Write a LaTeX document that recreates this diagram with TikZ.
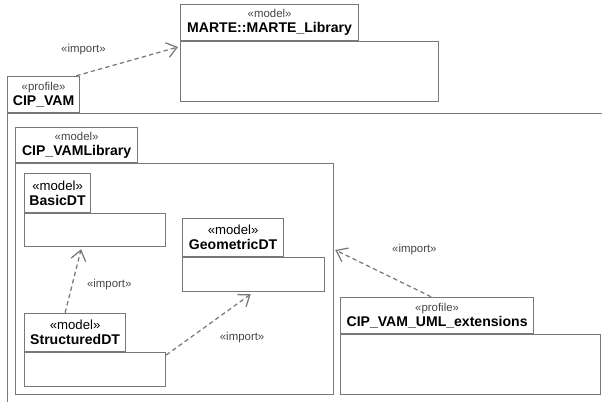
\documentclass[tikz,border=0pt]{standalone}
\usepackage{fontspec}
\setmainfont{Liberation Sans}
\usepackage{tikz}
\usetikzlibrary{arrows.meta, positioning, calc}
\definecolor{linegray}{RGB}{120, 120, 120}
\definecolor{textgray}{RGB}{70, 70, 70}
\newcommand{\stype}[1]{{\mdseries\fontsize{6.5}{7.5}\selectfont\color{textgray}«#1»}}
\newcommand{\stypedark}[1]{{\mdseries\fontsize{7.5}{8.5}\selectfont«#1»}}

\begin{document}
\begin{tikzpicture}[
    pkgbody/.style={rectangle, draw=linegray, line width=0.7pt, fill=white, anchor=north west, inner sep=0pt},
    pkgtab/.style={rectangle, draw=linegray, line width=0.7pt, fill=white, anchor=south west, inner sep=1pt, minimum height=0.72cm, align=center, font=\fontsize{8}{8.5}\selectfont\bfseries},
    imp/.style={-{Straight Barb[length=2mm, width=3mm]}, dash pattern=on 2.5pt off 1.8pt, linegray, line width=0.7pt},
    implabel/.style={font=\fontsize{6.5}{7}\selectfont, text=textgray}
]
    \useasboundingbox (0,0) rectangle (12.04,-8.02);
    \clip (0,0) rectangle (12.04,-8.02);

    % MARTE library
    \node[pkgbody, minimum width=5.16cm, minimum height=1.2cm] (martebody) at (3.6,-0.82) {};
    \node[pkgtab, minimum width=3.56cm] (martetab) at (martebody.north west) {\stype{model}\\MARTE::MARTE\_Library};

    % CIP_VAM profile (runs off the page)
    \node[pkgbody, minimum width=13cm, minimum height=7cm] (vambody) at (0.14,-2.26) {};
    \node[pkgtab, minimum width=1.44cm] (vamtab) at (vambody.north west) {\stype{profile}\\CIP\_VAM};

    % CIP_VAMLibrary
    \node[pkgbody, minimum width=6.36cm, minimum height=4.62cm] (libbody) at (0.30,-3.26) {};
    \node[pkgtab, minimum width=2.44cm, minimum height=0.70cm] (libtab) at (libbody.north west) {\stype{model}\\CIP\_VAMLibrary};

    % Data type models
    \node[pkgbody, minimum width=2.82cm, minimum height=0.66cm] (basicbody) at (0.48,-4.26) {};
    \node[pkgtab, minimum width=1.32cm, minimum height=0.78cm] (basictab) at (basicbody.north west) {\stypedark{model}\\BasicDT};

    \node[pkgbody, minimum width=2.84cm, minimum height=0.68cm] (geobody) at (3.64,-5.14) {};
    \node[pkgtab, minimum width=2.02cm, minimum height=0.76cm] (geotab) at (geobody.north west) {\stypedark{model}\\GeometricDT};

    \node[pkgbody, minimum width=2.82cm, minimum height=0.68cm] (structbody) at (0.48,-7.04) {};
    \node[pkgtab, minimum width=2.02cm, minimum height=0.76cm] (structtab) at (structbody.north west) {\stypedark{model}\\StructuredDT};

    % UML extensions profile
    \node[pkgbody, minimum width=5.2cm, minimum height=1.2cm] (extbody) at (6.80,-6.68) {};
    \node[pkgtab, minimum width=3.86cm] (exttab) at (extbody.north west) {\stype{profile}\\CIP\_VAM\_UML\_extensions};

    % Imports
    \draw[imp] ([xshift=-0.08cm]vamtab.north east) -- node[implabel, above left=0.0cm and 0.3cm]{«import»} ($(martebody.north west)+(-0.04,-0.12)$);
    \draw[imp] ([xshift=-0.2cm]structtab.north) -- node[implabel, right=0.15cm, yshift=-0.08cm]{«import»} ([xshift=-0.28cm, yshift=-0.04cm]basicbody.south);
    \draw[imp] ([yshift=-0.06cm]structbody.north east) -- node[implabel, below right=0.02cm and 0.1cm]{«import»} ([xshift=-0.06cm, yshift=-0.04cm]geobody.south);
    \draw[imp] ([xshift=-0.12cm]exttab.north) -- node[implabel, above right=0.25cm and 0.05cm]{«import»} ($(libbody.north east)+(0.02,-1.74)$);

\end{tikzpicture}
\end{document}
